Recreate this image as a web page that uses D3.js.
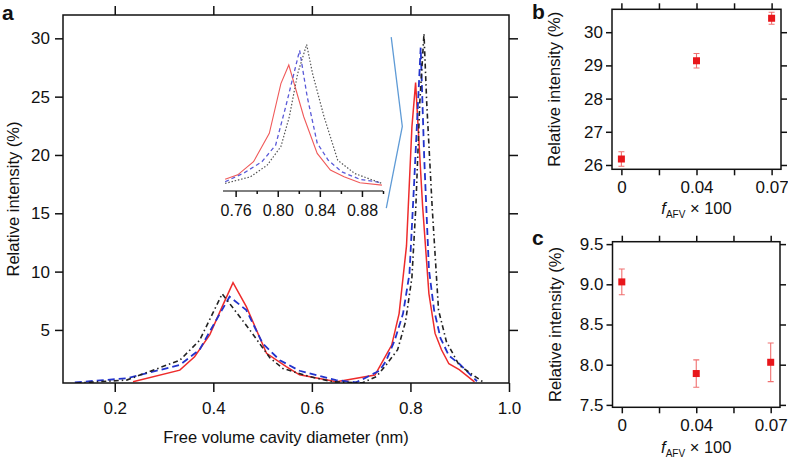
<!DOCTYPE html>
<html lang="en">
<head>
  <meta charset="UTF-8">
  <title>Free volume cavity diameter distribution</title>
  <script src="https://d3js.org/d3.v7.min.js"></script>
  <style>
    body { margin: 0; background: #fff; }
    svg { font-family: "Liberation Sans", Arial, sans-serif; }
    .tick text { font-size: 17px; fill: #111; }
    .axis-title { font-size: 16.5px; fill: #111; }
    .panel-label { font-size: 21px; font-weight: bold; fill: #111; }
  </style>
</head>
<body>
  <div id="chart"></div>
  <script>
    // curves: [cavity diameter (nm), relative intensity (%)]
    const afv0 = [[0.237,0.55],[0.332,1.55],[0.362,2.7],[0.393,4.6],[0.418,7.0],[0.44,9.06],[0.467,7.0],[0.508,3.0],[0.548,1.85],[0.575,1.15],[0.65,0.55],[0.728,1.13],[0.75,2.8],[0.762,3.7],[0.777,6.4],[0.792,12.2],[0.803,22.4],[0.8105,26.2],[0.8247,15.6],[0.8375,8.1],[0.85,4.7],[0.863,3.3],[0.878,2.1],[0.899,1.6],[0.93,0.55]];
    const afv4 = [[0.119,0.5],[0.224,0.85],[0.332,2.0],[0.372,3.3],[0.406,5.85],[0.433,7.85],[0.467,6.7],[0.5,3.85],[0.535,2.4],[0.575,1.5],[0.649,0.7],[0.69,0.5],[0.737,1.5],[0.75,2.3],[0.768,4.1],[0.785,6.4],[0.798,9.8],[0.8075,17.6],[0.8154,24.5],[0.8208,29.2],[0.828,19.7],[0.8375,10.2],[0.848,6.7],[0.861,4.3],[0.878,2.8],[0.899,2.1],[0.935,0.6]];
    const afv7 = [[0.122,0.45],[0.224,0.7],[0.332,2.4],[0.372,4.1],[0.418,8.1],[0.474,5.0],[0.515,2.6],[0.541,1.7],[0.595,1.0],[0.643,0.55],[0.703,0.47],[0.731,1.0],[0.75,1.96],[0.774,3.3],[0.79,5.7],[0.803,9.5],[0.811,15.6],[0.819,24.5],[0.8275,30.4],[0.833,24.5],[0.844,15.6],[0.857,6.7],[0.873,4.0],[0.899,1.96],[0.947,0.55]];

    // zoom bracket next to the inset, in data units of panel a
    const bracket = [[0.761,30.1],[0.7835,22.45],[0.751,15.45]];

    // panels b and c
    const fLabels = ["0", "", "0.04", "", "0.07"];
    const fIndex = [0, 2, 4];
    const highPeak = [26.18, 29.14, 30.42];
    const highErr = [0.22, 0.22, 0.18];
    const lowPeak = [9.03, 7.89, 8.03];
    const lowErr = [0.16, 0.17, 0.24];

    const W = 788, H = 466;
    const svg = d3.select("#chart").append("svg")
      .attr("width", W).attr("height", H);

    // ---------- panel a ----------
    const a = { left: 63, right: 509, top: 15, bottom: 383 };
    const x = d3.scaleLinear().domain([0.095, 1.0]).range([a.left, a.right]);
    const y = d3.scaleLinear().domain([0.45, 32]).range([a.bottom, a.top]);

    svg.append("clipPath").attr("id", "clipA")
      .append("rect").attr("x", a.left).attr("y", a.top)
      .attr("width", a.right - a.left).attr("height", a.bottom - a.top);

    const line = d3.line().x(d => x(d[0])).y(d => y(d[1]));
    const gA = svg.append("g").attr("clip-path", "url(#clipA)");
    gA.append("path").datum(afv0).attr("d", line)
      .attr("fill", "none").attr("stroke", "#ee2b2b").attr("stroke-width", 1.5);
    gA.append("path").datum(afv4).attr("d", line)
      .attr("fill", "none").attr("stroke", "#2233cc").attr("stroke-width", 1.8)
      .attr("stroke-dasharray", "7,4");
    gA.append("path").datum(afv7).attr("d", line)
      .attr("fill", "none").attr("stroke", "#222").attr("stroke-width", 1.6)
      .attr("stroke-dasharray", "5,3,1.5,3");

    const ticksY = [5, 10, 15, 20, 25, 30];
    svg.append("g").attr("transform", `translate(${a.left},0)`)
      .call(d3.axisLeft(y).tickValues(ticksY).tickSize(8).tickPadding(5));
    svg.append("g").attr("transform", `translate(${a.right},0)`)
      .call(d3.axisRight(y).tickValues(ticksY).tickSize(9).tickFormat(""));
    svg.append("g").attr("transform", `translate(0,${a.bottom})`)
      .call(d3.axisBottom(x).tickValues([0.2, 0.4, 0.6, 0.8, 1.0])
        .tickFormat(d3.format(".1f")).tickSize(9).tickPadding(10));
    svg.append("g").attr("transform", `translate(0,${a.top})`)
      .call(d3.axisTop(x).tickValues([0.2, 0.4, 0.6, 0.8]).tickSize(9).tickFormat(""));

    svg.append("rect").attr("x", a.left).attr("y", a.top)
      .attr("width", a.right - a.left).attr("height", a.bottom - a.top)
      .attr("fill", "none").attr("stroke", "#111").attr("stroke-width", 1.5);

    // inset
    const xi = d3.scaleLinear().domain([0.748, 0.90]).range([223, 383]);
    const yi = d3.scaleLinear().domain([0.4, 30.4]).range([191, 44.5]);
    const inRange = d => d[0] >= 0.748 && d[0] <= 0.9;
    const lineI = d3.line().x(d => xi(d[0])).y(d => yi(d[1]));
    svg.append("path").datum(afv0.filter(inRange)).attr("d", lineI)
      .attr("fill", "none").attr("stroke", "#f05a5a").attr("stroke-width", 1.1);
    svg.append("path").datum(afv4.filter(inRange)).attr("d", lineI)
      .attr("fill", "none").attr("stroke", "#5a5ad8").attr("stroke-width", 1.3)
      .attr("stroke-dasharray", "4,3");
    svg.append("path").datum(afv7.filter(inRange)).attr("d", lineI)
      .attr("fill", "none").attr("stroke", "#555").attr("stroke-width", 1.2)
      .attr("stroke-dasharray", "1.5,1.8");

    const inAxis = svg.append("g").attr("transform", "translate(0,191)");
    inAxis.call(d3.axisBottom(xi).tickValues([0.76, 0.80, 0.84, 0.88])
      .tickFormat(d3.format(".2f")).tickSize(6).tickPadding(8));
    inAxis.call(g => g.select(".domain").attr("d", `M${xi.range()[0]},0H${xi.range()[1]}`));
    inAxis.selectAll(".tick text").style("font-size", "16px");
    svg.append("g").attr("transform", "translate(0,191)")
      .call(d3.axisBottom(xi).tickValues([0.78, 0.82, 0.86, 0.90]).tickSize(3).tickFormat(""))
      .call(g => g.select(".domain").remove());

    svg.append("path").datum(bracket).attr("d", line)
      .attr("fill", "none").attr("stroke", "#5f9bd6").attr("stroke-width", 1.3);

    svg.append("text").attr("class", "axis-title")
      .attr("x", (a.left + a.right) / 2).attr("y", 443)
      .attr("text-anchor", "middle").text("Free volume cavity diameter (nm)");
    svg.append("text").attr("class", "axis-title")
      .attr("transform", `translate(19,${(a.top + a.bottom) / 2}) rotate(-90)`)
      .attr("text-anchor", "middle").text("Relative intensity (%)");
    svg.append("text").attr("class", "panel-label").attr("x", 2).attr("y", 20).text("a");

    // ---------- panels b and c ----------
    function smallPanel(box, domainY, ticks, fmt, peak, err, letter, letterY, titleY) {
      const xs = d3.scaleLinear().domain([-0.25, 4.25]).range([box.left, box.right]);
      const ys = d3.scaleLinear().domain(domainY).range([box.bottom, box.top]);

      svg.append("g").attr("transform", `translate(${box.left},0)`)
        .call(d3.axisLeft(ys).tickValues(ticks).tickFormat(fmt).tickSize(6).tickPadding(3));
      svg.append("g").attr("transform", `translate(${box.right},0)`)
        .call(d3.axisRight(ys).tickValues(ticks).tickSize(6).tickFormat(""));
      svg.append("g").attr("transform", `translate(0,${box.bottom})`)
        .call(d3.axisBottom(xs).tickValues([0, 1, 2, 3, 4]).tickSize(6).tickPadding(6)
          .tickFormat(i => fLabels[i]));
      svg.append("g").attr("transform", `translate(0,${box.top})`)
        .call(d3.axisTop(xs).tickValues([0, 1, 2, 3, 4]).tickSize(6).tickFormat(""));
      svg.append("rect").attr("x", box.left).attr("y", box.top)
        .attr("width", box.right - box.left).attr("height", box.bottom - box.top)
        .attr("fill", "none").attr("stroke", "#111").attr("stroke-width", 1.5);

      const pts = fIndex.map((f, i) => ({ f, v: peak[i], e: err[i] }));
      const g = svg.append("g");
      g.selectAll(".err").data(pts).enter().append("path")
        .attr("d", d => `M${xs(d.f) - 3},${ys(d.v + d.e)}H${xs(d.f) + 3}` +
          `M${xs(d.f)},${ys(d.v + d.e)}V${ys(d.v - d.e)}` +
          `M${xs(d.f) - 3},${ys(d.v - d.e)}H${xs(d.f) + 3}`)
        .attr("fill", "none").attr("stroke", "#f07070").attr("stroke-width", 1.1);
      g.selectAll(".pt").data(pts).enter().append("rect")
        .attr("x", d => xs(d.f) - 3.5).attr("y", d => ys(d.v) - 3.5)
        .attr("width", 7).attr("height", 7).attr("fill", "#e8161b");

      const t = svg.append("text").attr("class", "axis-title")
        .attr("x", (box.left + box.right) / 2).attr("y", titleY).attr("text-anchor", "middle");
      t.append("tspan").style("font-style", "italic").text("f");
      t.append("tspan").style("font-size", "10px").attr("dy", 4).text("AFV");
      t.append("tspan").attr("dy", -4).text(" \u00d7 100");

      svg.append("text").attr("class", "axis-title")
        .attr("transform", `translate(${box.left - 52},${(box.top + box.bottom) / 2}) rotate(-90)`)
        .attr("text-anchor", "middle").text("Relative intensity (%)");
      svg.append("text").attr("class", "panel-label").attr("x", 532).attr("y", letterY).text(letter);
    }

    smallPanel({ left: 612, right: 781, top: 9.3, bottom: 169.3 }, [25.87, 30.69],
      [26, 27, 28, 29, 30], d3.format("d"), highPeak, highErr, "b", 19, 214);
    smallPanel({ left: 612.5, right: 780, top: 241.7, bottom: 407.3 }, [7.47, 9.53],
      [7.5, 8.0, 8.5, 9.0, 9.5], d3.format(".1f"), lowPeak, lowErr, "c", 245, 453);

    svg.selectAll(".domain").filter(function () { return !this.closest("g[transform='translate(0,191)']"); })
      .attr("stroke", "none");
    svg.selectAll(".tick line").attr("stroke", "#111").attr("stroke-width", 1.5);
  </script>
</body>
</html>
